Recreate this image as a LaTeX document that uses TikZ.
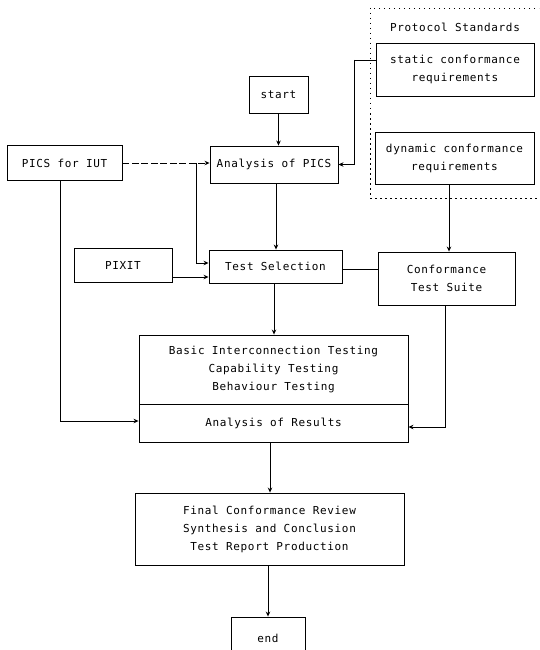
\documentclass[tikz,border=0pt]{standalone}
\usepackage{fontspec}
\newfontfamily\lpfont[LetterSpace=6]{DejaVu Sans Mono}
\usetikzlibrary{arrows.meta}
\begin{document}
\begin{tikzpicture}[x=1pt,y=-1pt,
  box/.style={draw,line width=0.9pt,rectangle,inner sep=0pt,align=center,
    font=\lpfont\fontsize{11}{18}\selectfont},
  lbl/.style={inner sep=0pt,font=\lpfont\fontsize{11}{18}\selectfont},
  conn/.style={line width=0.9pt,-{Stealth[length=5pt,width=4.5pt]}},
  plain/.style={line width=0.9pt},
  dconn/.style={line width=0.9pt,dash pattern=on 7pt off 2.5pt,-{Stealth[length=5pt,width=4.5pt]}},
  region/.style={line width=0.7pt,dash pattern=on 1.5pt off 3.5pt}]
\useasboundingbox (0,0) rectangle (539,650);
\clip (0,0) rectangle (539,650);
\fill[white] (0,0) rectangle (539,650);
% protocol standards region
\draw[region] (545,8) -- (370,8) -- (370,198) -- (545,198);
\node[lbl] (ps) at (455,27) {Protocol Standards};
\node[box,minimum width=158pt,minimum height=53pt] (static) at (455,69.5) {static conformance\\requirements};
\node[box,minimum width=159pt,minimum height=52pt] (dynamic) at (454.5,158) {dynamic conformance\\requirements};
% main boxes
\node[box,minimum width=59pt,minimum height=37pt] (start) at (278.5,94.5) {start};
\node[box,minimum width=128pt,minimum height=37pt] (apics) at (274,164.5) {Analysis of PICS};
\node[box,minimum width=115pt,minimum height=35pt] (pics) at (64.5,163) {PICS for IUT};
\node[box,minimum width=98pt,minimum height=34pt] (pixit) at (123,265) {PIXIT};
\node[box,minimum width=133pt,minimum height=33pt] (tsel) at (275.5,266.5) {Test Selection};
\node[box,minimum width=137pt,minimum height=53pt] (cts) at (446.5,278.5) {Conformance\\Test Suite};
\node[box,minimum width=269pt,minimum height=69pt] (bigtop) at (273.5,369.5) {Basic Interconnection Testing\\Capability Testing\\Behaviour Testing};
\node[box,minimum width=269pt,minimum height=38pt] (bigbot) at (273.5,423) {Analysis of Results};
\node[box,minimum width=269pt,minimum height=72pt] (final) at (269.5,529) {Final Conformance Review\\Synthesis and Conclusion\\Test Report Production};
\node[box,minimum width=74pt,minimum height=43pt] (endb) at (268,638.5) {end};
% helper coordinates
\coordinate (jn) at (196,163);
\coordinate (sk) at (354,60);
% connectors
\draw[conn] (start.south) -- (apics.north -| start.south);
\draw[plain] (static.west |- sk) -- (sk);
\draw[conn] (sk) -- (354,164.5) -- (apics.east);
\draw[dconn] (pics.east) -- (jn) -- (apics.west |- jn);
\draw[conn] (jn) -- (196,263) -- (tsel.west |- 0,263);
\draw[conn] (pixit.east |- 0,277) -- (tsel.west |- 0,277);
\draw[conn] (60,180.5) -- (60,421) -- (bigbot.west |- 0,421);
\draw[conn] (276,183) -- (tsel.north -| 276,0);
\draw[plain] (tsel.east |- 0,269) -- (cts.west |- 0,269);
\draw[conn] (449,184) -- (cts.north -| 449,0);
\draw[conn] (445,305) -- (445,427) -- (bigbot.east |- 0,427);
\draw[conn] (274,283) -- (bigtop.north -| 274,0);
\draw[conn] (270,442) -- (final.north -| 270,0);
\draw[conn] (268,565) -- (endb.north);
\end{tikzpicture}
\end{document}
